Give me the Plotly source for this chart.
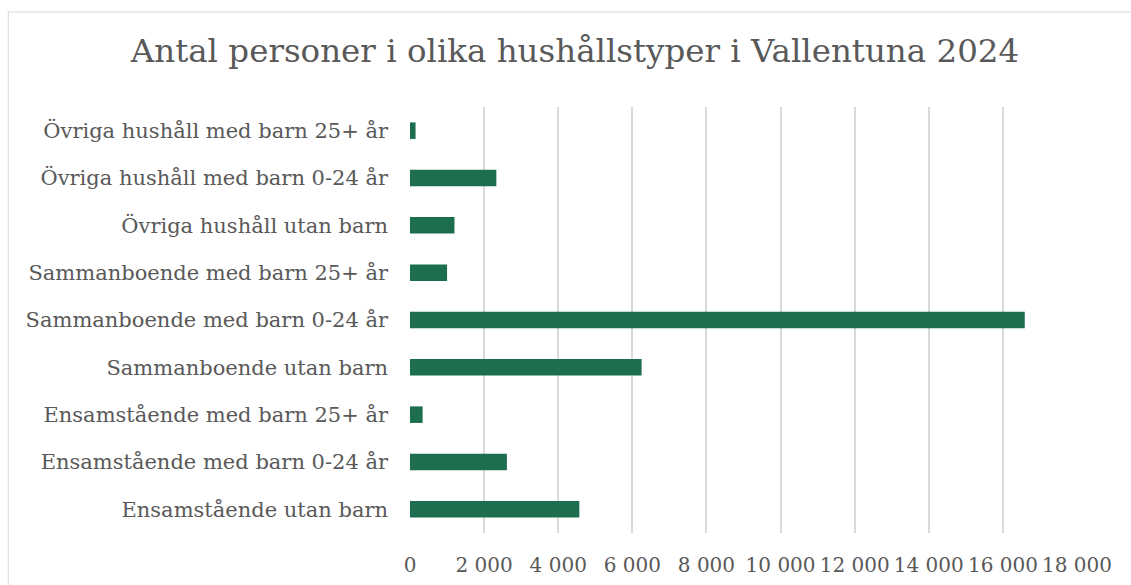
import plotly.graph_objects as go

categories = [
    "Ensamstående utan barn",
    "Ensamstående med barn 0-24 år",
    "Ensamstående med barn 25+ år",
    "Sammanboende utan barn",
    "Sammanboende med barn 0-24 år",
    "Sammanboende med barn 25+ år",
    "Övriga hushåll utan barn",
    "Övriga hushåll med barn 0-24 år",
    "Övriga hushåll med barn 25+ år",
]
values = [4570, 2615, 340, 6250, 16590, 1000, 1200, 2330, 150]
x_ticks = [0, 2000, 4000, 6000, 8000, 10000, 12000, 14000, 16000, 18000]

W, H = 1131, 585
L, R, T, B = 409.7, 1077.5, 107, 533
pw, ph = R - L, B - T

font_family = "DejaVu Serif"
grey = "#595959"

fig = go.Figure(go.Bar(
    x=values, y=categories, orientation="h",
    marker=dict(color="#1D6E4F", line=dict(width=0)),
))

fig.update_layout(
    width=W, height=H,
    margin=dict(l=L, r=W - R, t=T, b=H - B, pad=0, autoexpand=False),
    paper_bgcolor="white", plot_bgcolor="white",
    bargap=0.65,
    separators=", ",
    showlegend=False,
    font=dict(family=font_family, color=grey),
    title=dict(
        text="Antal personer i olika hushållstyper i Vallentuna 2024",
        font=dict(family=font_family, size=32.5, color=grey),
        xref="container", yref="container",
        x=575 / W, xanchor="center",
        y=1 - 51 / H, yanchor="middle",
    ),
    xaxis=dict(
        range=[0, 18000], tickvals=x_ticks, tickformat=",d",
        tickangle=0, showgrid=True, gridcolor="#D9D9D9", gridwidth=1.5,
        zeroline=False, showline=False, ticks="", automargin=False,
        ticklabelstandoff=18,
        tickfont=dict(family=font_family, size=20, color=grey),
    ),
    yaxis=dict(
        type="category", showgrid=False, zeroline=False, showline=False,
        ticks="", ticklabelstandoff=21, automargin=False,
        tickfont=dict(family=font_family, size=21, color=grey),
    ),
    shapes=[dict(
        type="rect", xref="paper", yref="paper",
        x0=(7.5 - L) / pw, x1=(1140 - L) / pw,
        y0=(B - 595) / ph, y1=(B - 12) / ph,
        line=dict(color="#D9D9D9", width=1), fillcolor="rgba(0,0,0,0)",
        layer="below",
    )],
)

fig.write_html(
    "out.html",
    config={"displayModeBar": False},
    post_script="document.body.style.margin='0';document.body.style.overflow='hidden';",
)
